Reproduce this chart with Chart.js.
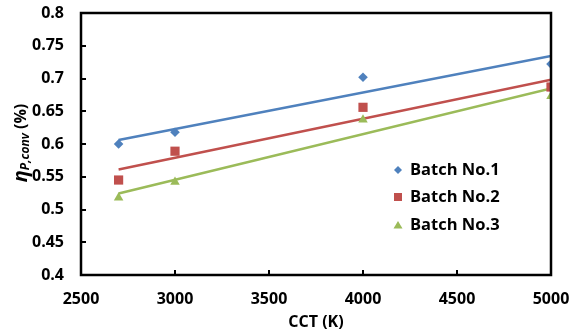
<!DOCTYPE html>
<html>
<head>
<meta charset="utf-8">
<script src="https://cdn.jsdelivr.net/npm/chart.js@4"></script>
<style>
  html, body { margin: 0; padding: 0; background: #fff; }
  #wrap { width: 574px; height: 336px; position: relative; }
</style>
</head>
<body>
<div id="wrap"><canvas id="chart"></canvas></div>
<script>
// CCT values (K)
const cct = [2700, 3000, 4000, 5000];
// efficiency per batch
const batch1 = [0.600, 0.618, 0.702, 0.722];
const batch2 = [0.545, 0.589, 0.656, 0.687];
const batch3 = [0.518, 0.542, 0.637, 0.673];

const seriesNames = ['Batch No.1', 'Batch No.2', 'Batch No.3'];
const seriesColors = ['#4F81BD', '#C0504D', '#9BBB59'];
const seriesMarkers = ['rectRot', 'rect', 'triangle'];
const markerSizes = [4.8, 6.5, 5.5];

const xTicks = [2500, 3000, 3500, 4000, 4500, 5000];
const yTicks = ['0.4', '0.45', '0.5', '0.55', '0.6', '0.65', '0.7', '0.75', '0.8'];

const FONT = '"Open Sans", "Liberation Sans", sans-serif';

// least-squares line through the points, evaluated at first/last x
function trend(xs, ys) {
  const n = xs.length;
  const mx = xs.reduce((a, b) => a + b, 0) / n;
  const my = ys.reduce((a, b) => a + b, 0) / n;
  let sxy = 0, sxx = 0;
  xs.forEach((x, i) => { sxy += (x - mx) * (ys[i] - my); sxx += (x - mx) * (x - mx); });
  const k = sxy / sxx;
  const x0 = xs[0], x1 = xs[n - 1];
  return [{ x: x0, y: my + k * (x0 - mx) }, { x: x1, y: my + k * (x1 - mx) }];
}

const allSeries = [batch1, batch2, batch3];
const datasets = [];
allSeries.forEach((vals, i) => {
  datasets.push({
    label: seriesNames[i] + ' trend',
    type: 'line',
    data: trend(cct, vals),
    borderColor: seriesColors[i],
    borderWidth: 2.5,
    pointRadius: 0,
    fill: false,
    order: 2,
  });
});
allSeries.forEach((vals, i) => {
  datasets.push({
    label: seriesNames[i],
    type: 'scatter',
    data: cct.map((x, j) => ({ x, y: vals[j] })),
    backgroundColor: seriesColors[i],
    borderColor: seriesColors[i],
    pointStyle: seriesMarkers[i],
    pointRadius: markerSizes[i],
    borderWidth: 0,
    order: 1,
  });
});

const framePlugin = {
  id: 'frame',
  afterDraw(chart) {
    const ctx = chart.ctx;
    const a = chart.chartArea;
    const L = Math.round(a.left), R = Math.round(a.right), T = Math.round(a.top), B = Math.round(a.bottom);
    const sx = chart.scales.x, sy = chart.scales.y;
    ctx.save();
    ctx.globalAlpha = 1;
    ctx.setLineDash([]);
    ctx.strokeStyle = '#000000';
    ctx.lineWidth = 2.5;
    ctx.lineJoin = 'miter';
    ctx.beginPath();
    ctx.moveTo(L, T);
    ctx.lineTo(R, T);
    ctx.lineTo(R, B);
    ctx.lineTo(L, B);
    ctx.closePath();
    ctx.stroke();
    // inward tick marks
    ctx.lineWidth = 2;
    ctx.beginPath();
    xTicks.forEach(v => {
      const px = Math.round(sx.getPixelForValue(v));
      ctx.moveTo(px, B);
      ctx.lineTo(px, B - 5);
    });
    yTicks.forEach(t => {
      const py = Math.round(sy.getPixelForValue(parseFloat(t)));
      ctx.moveTo(L, py);
      ctx.lineTo(L + 5, py);
    });
    ctx.stroke();

    // legend inside plot
    const lx = 398, ly = [170, 197, 225];
    seriesNames.forEach((name, i) => {
      ctx.fillStyle = seriesColors[i];
      const y = ly[i];
      ctx.beginPath();
      if (i === 0) {
        ctx.moveTo(lx, y - 4); ctx.lineTo(lx + 4, y); ctx.lineTo(lx, y + 4); ctx.lineTo(lx - 4, y);
      } else if (i === 1) {
        ctx.rect(lx - 4, y - 4, 8, 8);
      } else {
        ctx.moveTo(lx, y - 4); ctx.lineTo(lx + 4.5, y + 3.5); ctx.lineTo(lx - 4.5, y + 3.5);
      }
      ctx.closePath();
      ctx.fill();
      ctx.fillStyle = '#000';
      ctx.font = 'bold 16.5px ' + FONT;
      ctx.textAlign = 'left';
      ctx.textBaseline = 'middle';
      ctx.fillText(name, lx + 12, y);
    });

    // y-axis title: eta_{P,conv} (%)
    ctx.translate(21, (a.top + a.bottom) / 2 - 1);
    ctx.rotate(-Math.PI / 2);
    const parts = [
      { t: 'η', f: 'italic bold 20px ' + FONT, dy: 0 },
      { t: 'P,conv', f: 'italic bold 12px ' + FONT, dy: 5 },
      { t: ' (%)', f: 'bold 16px ' + FONT, dy: 0 },
    ];
    let w = 0;
    parts.forEach(p => { ctx.font = p.f; p.w = ctx.measureText(p.t).width; w += p.w; });
    let x = -w / 2;
    ctx.fillStyle = '#000';
    ctx.textAlign = 'left';
    ctx.textBaseline = 'middle';
    parts.forEach(p => { ctx.font = p.f; ctx.fillText(p.t, x, p.dy); x += p.w; });
    ctx.restore();
  }
};

new Chart(document.getElementById('chart'), {
  type: 'scatter',
  data: { datasets },
  options: {
    responsive: true,
    maintainAspectRatio: false,
    animation: false,
    layout: { padding: { left: 0, top: 13, right: 23, bottom: 0 } },
    plugins: { legend: { display: false }, tooltip: { enabled: false } },
    scales: {
      x: {
        type: 'linear',
        min: xTicks[0],
        max: xTicks[xTicks.length - 1],
        afterBuildTicks: s => { s.ticks = xTicks.map(v => ({ value: v })); },
        afterFit: s => { s.height = 61; s.paddingLeft = 0; s.paddingRight = 0; },
        grid: { display: false, drawTicks: false },
        border: { display: false },
        ticks: { color: '#000', font: { family: FONT, size: 16, weight: 'bold' }, padding: 15, callback: v => String(v) },
        title: { display: true, text: 'CCT (K)', color: '#000', font: { family: FONT, size: 16, weight: 'bold' }, padding: { top: 3 } },
      },
      y: {
        type: 'linear',
        min: 0.4,
        max: 0.8,
        afterBuildTicks: s => { s.ticks = yTicks.map(t => ({ value: parseFloat(t) })); },
        afterFit: s => { s.width = 81; s.paddingTop = 0; s.paddingBottom = 0; },
        grid: { display: false, drawTicks: false },
        border: { display: false },
        ticks: {
          color: '#000',
          font: { family: FONT, size: 16, weight: 'bold' },
          padding: 17,
          callback: (v, i) => yTicks[i],
        },
      },
    },
  },
  plugins: [framePlugin],
});
</script>
</body>
</html>
